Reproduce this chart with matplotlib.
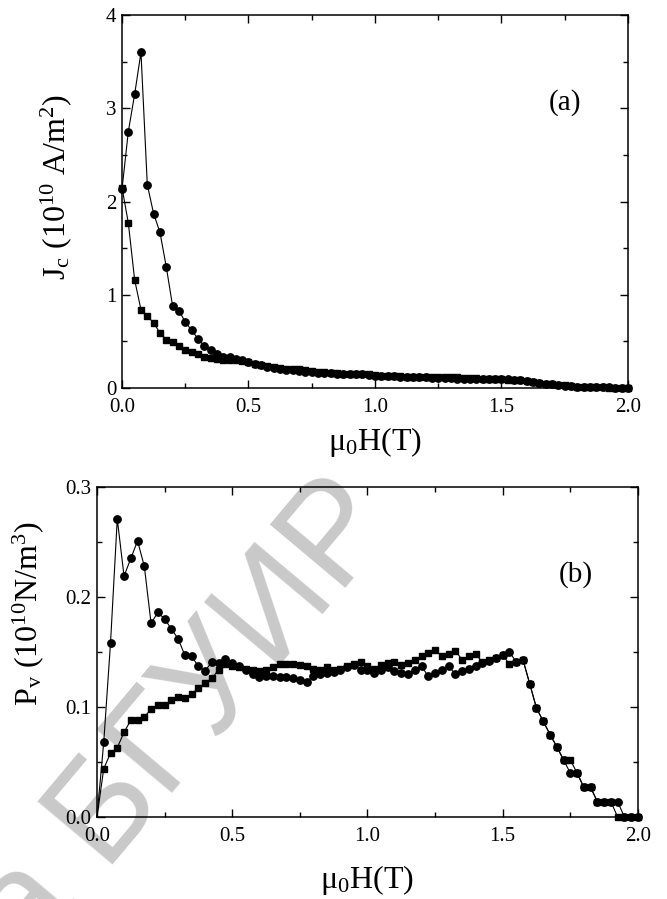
import numpy as np
import matplotlib
matplotlib.use('Agg')
import matplotlib.pyplot as plt
from matplotlib.ticker import MultipleLocator, FormatStrFormatter

plt.rcParams['font.family'] = ['Liberation Serif', 'DejaVu Serif']
plt.rcParams['mathtext.fontset'] = 'custom'
plt.rcParams['mathtext.rm'] = 'Liberation Serif'
plt.rcParams['mathtext.default'] = 'regular'

# applied field, T
field = [0.000, 0.025, 0.050, 0.075, 0.100, 0.125, 0.150, 0.175, 0.200, 0.225,
         0.250, 0.275, 0.300, 0.325, 0.350, 0.375, 0.400, 0.425, 0.450, 0.475,
         0.500, 0.525, 0.550, 0.575, 0.600, 0.625, 0.650, 0.675, 0.700, 0.725,
         0.750, 0.775, 0.800, 0.825, 0.850, 0.875, 0.900, 0.925, 0.950, 0.975,
         1.000, 1.025, 1.050, 1.075, 1.100, 1.125, 1.150, 1.175, 1.200, 1.225,
         1.250, 1.275, 1.300, 1.325, 1.350, 1.375, 1.400, 1.425, 1.450, 1.475,
         1.500, 1.525, 1.550, 1.575, 1.600, 1.625, 1.650, 1.675, 1.700, 1.725,
         1.750, 1.775, 1.800, 1.825, 1.850, 1.875, 1.900, 1.925, 1.950, 1.975,
         2.000]

# critical current density, 10^10 A/m^2
jc_circ = [2.13, 2.75, 3.15, 3.60, 2.18, 1.87, 1.67, 1.30, 0.88, 0.83,
           0.71, 0.62, 0.53, 0.45, 0.41, 0.365, 0.333, 0.332, 0.311, 0.303,
           0.280, 0.261, 0.244, 0.226, 0.212, 0.205, 0.197, 0.188, 0.181, 0.174,
           0.167, 0.159, 0.160, 0.158, 0.154, 0.151, 0.149, 0.147, 0.145, 0.137,
           0.134, 0.128, 0.128, 0.127, 0.121, 0.116, 0.113, 0.114, 0.114, 0.104,
           0.105, 0.105, 0.105, 0.098, 0.099, 0.098, 0.098, 0.098, 0.098, 0.098,
           0.098, 0.098, 0.091, 0.091, 0.076, 0.061, 0.053, 0.045, 0.038, 0.030,
           0.023, 0.023, 0.015, 0.015, 0.008, 0.007, 0.007, 0.007, 0.000, 0.000,
           0.000]
jc_sq = [2.15, 1.77, 1.16, 0.84, 0.77, 0.70, 0.59, 0.52, 0.49, 0.45,
         0.41, 0.385, 0.363, 0.332, 0.320, 0.312, 0.305, 0.296, 0.298, 0.293,
         0.274, 0.259, 0.245, 0.233, 0.222, 0.214, 0.209, 0.206, 0.199, 0.192,
         0.184, 0.177, 0.169, 0.162, 0.160, 0.153, 0.150, 0.148, 0.146, 0.145,
         0.137, 0.132, 0.131, 0.130, 0.128, 0.123, 0.122, 0.122, 0.122, 0.122,
         0.122, 0.115, 0.114, 0.114, 0.106, 0.106, 0.106, 0.099, 0.099, 0.098,
         0.098, 0.091, 0.091, 0.091, 0.076, 0.061, 0.053, 0.045, 0.038, 0.030,
         0.030, 0.023, 0.015, 0.015, 0.008, 0.007, 0.007, 0.000, 0.000, 0.000,
         0.000]

# pinning force density, 10^10 N/m^3
pv_circ = [0.000, 0.068, 0.158, 0.271, 0.219, 0.235, 0.251, 0.228, 0.176, 0.186,
           0.180, 0.171, 0.162, 0.147, 0.146, 0.137, 0.133, 0.141, 0.140, 0.144,
           0.140, 0.137, 0.134, 0.130, 0.127, 0.128, 0.128, 0.127, 0.127, 0.126,
           0.125, 0.123, 0.128, 0.130, 0.131, 0.132, 0.134, 0.136, 0.138, 0.134,
           0.134, 0.131, 0.134, 0.136, 0.133, 0.131, 0.130, 0.134, 0.137, 0.128,
           0.131, 0.134, 0.137, 0.130, 0.133, 0.135, 0.137, 0.140, 0.142, 0.145,
           0.147, 0.150, 0.141, 0.143, 0.121, 0.099, 0.087, 0.075, 0.064, 0.052,
           0.040, 0.040, 0.027, 0.027, 0.014, 0.014, 0.014, 0.014, 0.000, 0.000,
           0.000]
pv_sq = [0.000, 0.044, 0.058, 0.063, 0.077, 0.088, 0.088, 0.091, 0.098, 0.102,
         0.102, 0.106, 0.109, 0.108, 0.112, 0.117, 0.122, 0.126, 0.134, 0.139,
         0.137, 0.136, 0.135, 0.134, 0.133, 0.134, 0.136, 0.139, 0.139, 0.139,
         0.138, 0.137, 0.135, 0.134, 0.136, 0.134, 0.135, 0.137, 0.139, 0.141,
         0.137, 0.135, 0.138, 0.140, 0.141, 0.138, 0.140, 0.143, 0.146, 0.149,
         0.152, 0.146, 0.148, 0.151, 0.143, 0.146, 0.148, 0.141, 0.143, 0.145,
         0.147, 0.139, 0.141, 0.143, 0.121, 0.099, 0.087, 0.075, 0.064, 0.052,
         0.052, 0.040, 0.027, 0.027, 0.014, 0.014, 0.014, 0.000, 0.000, 0.000,
         0.000]

fig = plt.figure(figsize=(6.67, 8.99), dpi=100)
ax_a = fig.add_axes([0.1829, 0.5684, 0.7586, 0.4149])
ax_b = fig.add_axes([0.1454, 0.0912, 0.8110, 0.3671])

# watermark behind both panels
fig.text(0.598, 0.418, 'Библиотека БГУИР', rotation=50, rotation_mode='anchor',
         ha='right', va='baseline', fontsize=102, color='#c9c9c9',
         family='Liberation Sans', zorder=-5)

def style_axes(ax, ymax, ymajor, yminor, yfmt):
    ax.set_facecolor('none')
    ax.set_xlim(0, 2.0)
    ax.set_ylim(0, ymax)
    ax.xaxis.set_major_locator(MultipleLocator(0.5))
    ax.xaxis.set_minor_locator(MultipleLocator(0.25))
    ax.yaxis.set_major_locator(MultipleLocator(ymajor))
    ax.yaxis.set_minor_locator(MultipleLocator(yminor))
    ax.xaxis.set_major_formatter(FormatStrFormatter('%.1f'))
    ax.yaxis.set_major_formatter(FormatStrFormatter(yfmt))
    ax.tick_params(which='both', direction='in', top=True, right=True,
                   width=1.0, labelsize=15)
    ax.tick_params(axis='x', pad=7)
    ax.tick_params(axis='y', pad=4)
    ax.tick_params(which='major', length=6)
    ax.tick_params(which='minor', length=3.5)
    for s in ax.spines.values():
        s.set_linewidth(1.1)

style_axes(ax_a, 4, 1, 0.5, '%d')
style_axes(ax_b, 0.3, 0.1, 0.05, '%.1f')

ax_a.plot(field, jc_sq, 's-', color='black', ms=4.8, lw=0.8, clip_on=False)
ax_a.plot(field, jc_circ, 'o-', color='black', ms=5.3, lw=0.8, clip_on=False)

ax_b.plot(field, pv_sq, 's-', color='black', ms=4.8, lw=0.8, clip_on=False,
          markevery=slice(1, None))
ax_b.plot(field, pv_circ, 'o-', color='black', ms=5.3, lw=0.8, clip_on=False,
          markevery=slice(1, None))

ax_a.text(1.75, 3.06, '(a)', fontsize=21, ha='center', va='center')
ax_b.text(1.77, 0.22, '(b)', fontsize=21, ha='center', va='center')

ax_a.set_xlabel('μ$_0$H(T)', fontsize=23)
ax_a.set_ylabel('J$_c$ (10$^{10}$ A/m$^2$)', fontsize=23)
ax_b.set_xlabel('μ$_0$H(T)', fontsize=23)
ax_b.set_ylabel('P$_v$ (10$^{10}$N/m$^3$)', fontsize=23)

ax_a.xaxis.set_label_coords(0.5, -0.10)
ax_a.yaxis.set_label_coords(-0.095, 0.54)
ax_b.xaxis.set_label_coords(0.5, -0.14)
ax_b.yaxis.set_label_coords(-0.095, 0.615)

fig.savefig('out.png', dpi=100)
